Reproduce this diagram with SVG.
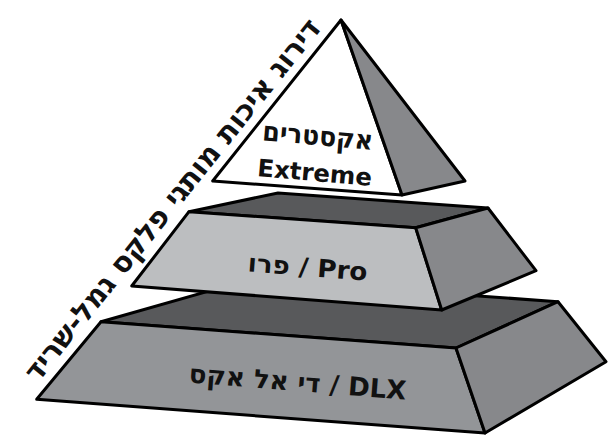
<svg xmlns="http://www.w3.org/2000/svg" width="608" height="435" viewBox="0 0 608 435">
<style>
.f{stroke:#000;stroke-width:3;stroke-linejoin:round}
.top{fill:#58595b}
.side{fill:#87888b}
.lbl{font-family:"DejaVu Sans",sans-serif;font-weight:bold;fill:#111;text-anchor:middle}
</style>
<rect width="608" height="435" fill="#fff"/>
<g id="tier-dlx">
<polygon class="f top" points="249,279.6 558,301.7 456,348 101,321.7"/>
<polygon class="f" fill="#939598" points="101,321.7 456,348 485,433 36.7,399.3"/>
<polygon class="f side" points="456,348 558,301.7 606,361.7 485,433"/>
<text class="lbl" font-size="26" x="297" y="391" textLength="218" lengthAdjust="spacingAndGlyphs" transform="rotate(4.5 297 391)">די אל אקס / DLX</text>
</g>
<g id="tier-pro">
<polygon class="f top" points="278,193 488,208 415.7,227.7 189,211.7"/>
<polygon class="f" fill="#bcbec0" points="189,211.7 415.7,227.7 441.7,310 131.7,286"/>
<polygon class="f side" points="415.7,227.7 488,208 536,270.7 441.7,310"/>
<text class="lbl" font-size="25" x="307" y="276" textLength="120" lengthAdjust="spacingAndGlyphs" transform="rotate(4.5 307 276)">פרו / Pro</text>
</g>
<g id="tier-extreme">
<polygon class="f" fill="#fff" points="341,20 212.7,181 402,195"/>
<polygon class="f side" points="341,20 402,195 465,181"/>
<text class="lbl" font-size="27" x="317" y="145" textLength="111" lengthAdjust="spacingAndGlyphs" transform="rotate(5 317 145)">אקסטרים</text>
<text class="lbl" font-size="24" x="314" y="181" textLength="115" lengthAdjust="spacingAndGlyphs" transform="rotate(5 314 181)">Extreme</text>
</g>
<g id="axis-label">
<text class="lbl" font-size="29" x="180" y="206" textLength="455" lengthAdjust="spacingAndGlyphs" transform="rotate(-51.3 180 206)">דירוג איכות מותגי פלקס גמל-שריד</text>
</g>
</svg>
